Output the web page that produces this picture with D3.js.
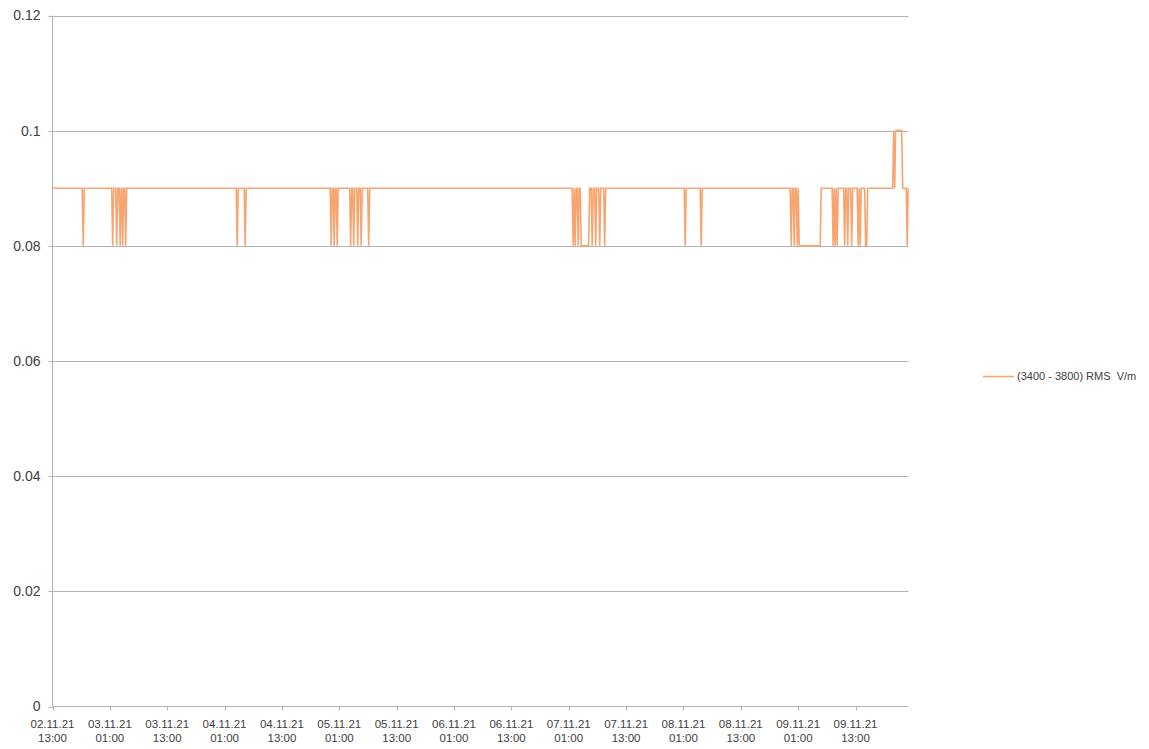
<!DOCTYPE html>
<html>
<head>
<meta charset="utf-8">
<script src="https://cdn.jsdelivr.net/npm/d3@7"></script>
<style>
  body { margin: 0; background: #fff; }
  svg { display: block; }
  text { font-family: 'Liberation Sans', Arial, sans-serif; fill: #404040; }
</style>
</head>
<body>
<svg></svg>
<script>
const w = 1149;
const h = 749;

// tick labels on the category axis, one every 12 hours
const tickDays = ['02.11.21', '03.11.21', '03.11.21', '04.11.21', '04.11.21', '05.11.21', '05.11.21',
  '06.11.21', '06.11.21', '07.11.21', '07.11.21', '08.11.21', '08.11.21', '09.11.21', '09.11.21'];
const tickTimes = ['13:00', '01:00', '13:00', '01:00', '13:00', '01:00', '13:00',
  '01:00', '13:00', '01:00', '13:00', '01:00', '13:00', '01:00', '13:00'];
const yTicks = [0, 0.02, 0.04, 0.06, 0.08, 0.1, 0.12];
const seriesName = '(3400 - 3800) RMS  V/m';

// readings: [hours since 02.11.21 13:00, RMS V/m]
const readings = [
  [0, 0.09],
  [6.21, 0.09], [6.42, 0.08], [6.63, 0.09],
  [12.38, 0.09], [12.59, 0.08], [12.8, 0.09],
  [13.22, 0.09], [13.43, 0.08], [13.64, 0.09],
  [13.95, 0.09], [14.16, 0.08], [14.37, 0.09],
  [14.48, 0.09], [14.69, 0.08], [14.9, 0.09],
  [15.1, 0.09], [15.31, 0.08], [15.52, 0.09],
  [38.43, 0.09], [38.64, 0.08], [38.85, 0.09],
  [40.1, 0.09], [40.31, 0.08], [40.52, 0.09],
  [58.1, 0.09], [58.31, 0.08], [58.52, 0.09],
  [58.72, 0.09], [58.93, 0.08], [59.14, 0.09],
  [59.35, 0.09], [59.56, 0.08], [59.77, 0.09],
  [62.17, 0.09], [62.38, 0.08], [62.59, 0.09],
  [62.8, 0.09], [63.01, 0.08], [63.22, 0.09],
  [63.64, 0.09], [63.85, 0.08], [64.06, 0.09],
  [64.37, 0.09], [64.58, 0.08], [64.79, 0.09],
  [65.94, 0.09], [66.15, 0.08], [66.36, 0.09],
  [108.72, 0.09], [108.93, 0.08], [109.14, 0.09], [109.35, 0.08], [109.56, 0.09],
  [109.77, 0.09], [109.98, 0.08], [110.19, 0.09], [110.4, 0.09], [110.6, 0.08],
  [112.17, 0.08], [112.38, 0.09],
  [112.7, 0.09], [112.91, 0.08], [113.12, 0.09],
  [113.43, 0.09], [113.64, 0.08], [113.85, 0.09],
  [114.27, 0.09], [114.48, 0.08], [114.69, 0.09],
  [115.31, 0.09], [115.52, 0.08], [115.73, 0.09],
  [132.15, 0.09], [132.36, 0.08], [132.57, 0.09],
  [135.5, 0.09], [135.71, 0.08], [135.92, 0.09],
  [154.33, 0.09], [154.54, 0.08], [154.75, 0.09],
  [154.96, 0.09], [155.17, 0.08], [155.38, 0.09],
  [155.59, 0.09], [155.8, 0.08], [156.01, 0.09], [156.22, 0.08],
  [160.61, 0.08], [160.82, 0.09],
  [163.11, 0.09], [163.32, 0.08], [163.53, 0.09], [163.74, 0.08], [163.95, 0.09],
  [164.16, 0.08], [164.37, 0.09],
  [165.52, 0.09], [165.73, 0.08], [165.94, 0.09],
  [166.15, 0.09], [166.36, 0.08], [166.57, 0.09],
  [166.98, 0.09], [167.19, 0.08], [167.4, 0.09],
  [168.34, 0.09], [168.55, 0.08], [168.76, 0.09], [168.97, 0.08], [169.18, 0.09],
  [169.91, 0.09], [170.12, 0.08], [170.33, 0.08], [170.54, 0.09],
  [175.77, 0.09], [175.98, 0.1], [176.19, 0.09], [176.4, 0.1],
  [177.66, 0.1], [177.87, 0.09],
  [178.6, 0.09], [178.81, 0.08], [179.0, 0.09]
];

const start = new Date(2021, 10, 2, 13, 0);
const end = new Date(2021, 10, 10, 0, 5);
const hourMs = 3600 * 1000;

const margin = { left: 52.5, right: 908.5, top: 15.5, bottom: 706.5 };

const svg = d3.select('svg').attr('width', w).attr('height', h);

const x = d3.scaleTime().domain([start, end]).range([margin.left, margin.right]);
const y = d3.scaleLinear().domain([0, 0.12]).range([margin.bottom, margin.top]);

// gridlines
svg
  .append('g')
  .selectAll('line')
  .data(yTicks.filter(d => d > 0))
  .enter()
  .append('line')
  .attr('x1', margin.left)
  .attr('x2', margin.right)
  .attr('y1', d => Math.round(y(d)) + 0.5)
  .attr('y2', d => Math.round(y(d)) + 0.5)
  .attr('stroke', '#b3b3b3')
  .attr('stroke-width', 1);

// y axis
const yAxis = svg.append('g').attr('transform', `translate(${margin.left},0)`);
yAxis
  .append('line')
  .attr('x1', 0)
  .attr('x2', 0)
  .attr('y1', margin.top)
  .attr('y2', margin.bottom)
  .attr('stroke', '#b3b3b3');
yAxis
  .selectAll('.ytick')
  .data(yTicks)
  .enter()
  .append('line')
  .attr('x1', -4)
  .attr('x2', 0)
  .attr('y1', d => Math.round(y(d)) + 0.5)
  .attr('y2', d => Math.round(y(d)) + 0.5)
  .attr('stroke', '#b3b3b3');
yAxis
  .selectAll('text')
  .data(yTicks)
  .enter()
  .append('text')
  .attr('x', -12)
  .attr('y', d => y(d))
  .attr('dy', '0.35em')
  .attr('text-anchor', 'end')
  .style('font-size', '14px')
  .text(d => (d === 0 ? '0' : String(d)));

// x axis
const tickDates = tickDays.map((d, i) => new Date(start.getTime() + i * 12 * hourMs));
const xAxis = svg.append('g').attr('transform', `translate(0,${margin.bottom})`);
xAxis
  .append('line')
  .attr('x1', margin.left)
  .attr('x2', margin.right)
  .attr('stroke', '#b3b3b3');
xAxis
  .selectAll('.xtick')
  .data(tickDates)
  .enter()
  .append('line')
  .attr('x1', d => Math.round(x(d)) + 0.5)
  .attr('x2', d => Math.round(x(d)) + 0.5)
  .attr('y1', 0)
  .attr('y2', 4)
  .attr('stroke', '#b3b3b3');
const xLabels = xAxis
  .selectAll('text')
  .data(tickDates)
  .enter()
  .append('text')
  .attr('text-anchor', 'middle')
  .style('font-size', '11.5px');
xLabels
  .append('tspan')
  .attr('x', d => x(d))
  .attr('y', 21)
  .text((d, i) => tickDays[i]);
xLabels
  .append('tspan')
  .attr('x', d => x(d))
  .attr('y', 35.5)
  .text((d, i) => tickTimes[i]);

// series line
const line = d3
  .line()
  .x(d => x(new Date(start.getTime() + d[0] * hourMs)))
  .y(d => y(d[1]));

svg
  .append('path')
  .datum(readings)
  .attr('d', line)
  .attr('fill', 'none')
  .attr('stroke', '#f8a46f')
  .attr('stroke-width', 1.6)
  .attr('stroke-linejoin', 'miter');

// legend
const legend = svg.append('g').attr('transform', 'translate(983,376.5)');
legend
  .append('line')
  .attr('x1', 0)
  .attr('x2', 31)
  .attr('stroke', '#f8a46f')
  .attr('stroke-width', 1.6);
legend
  .append('text')
  .attr('x', 34)
  .attr('dy', '0.35em')
  .style('font-size', '11px')
  .style('white-space', 'pre')
  .text(seriesName);
</script>
</body>
</html>
